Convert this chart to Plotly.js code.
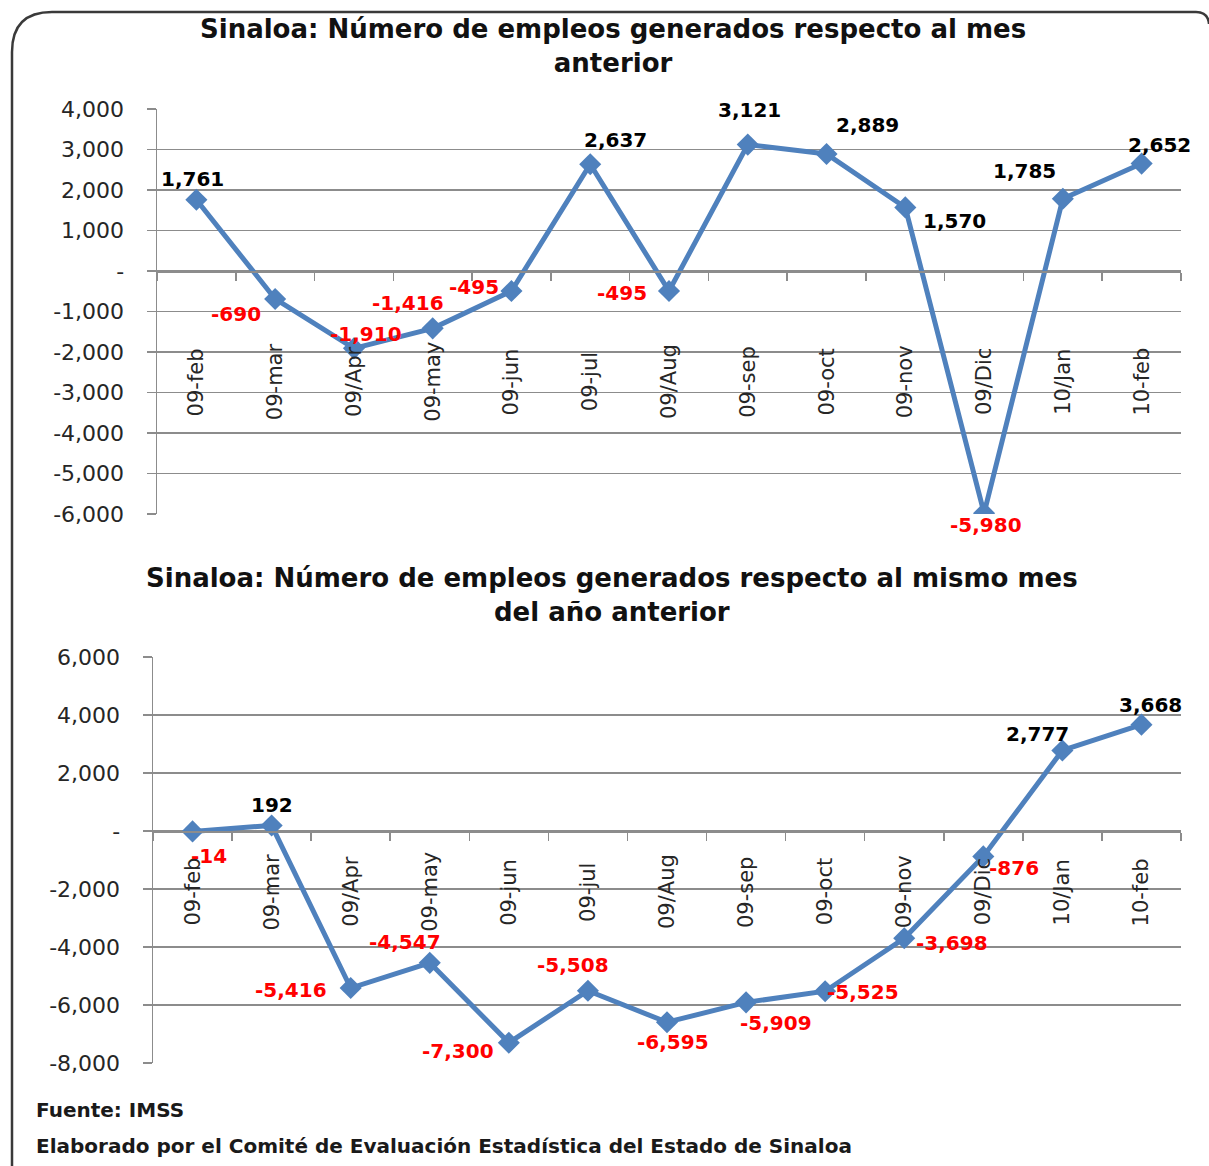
<!DOCTYPE html>
<html>
<head>
<meta charset="utf-8">
<script src="https://cdn.plot.ly/plotly-3.0.1.min.js"></script>
<style>html,body{margin:0;padding:0;background:#fff;}#chart{width:1209px;height:1166px;}</style>
</head>
<body>
<div id="chart"></div>
<script>
// ---- data ----
const categories = ['09-feb','09-mar','09/Apr','09-may','09-jun','09-jul','09/Aug','09-sep','09-oct','09-nov','09/Dic','10/Jan','10-feb'];
const mensual = [1761,-690,-1910,-1416,-495,2637,-495,3121,2889,1570,-5980,1785,2652];
const anual = [-14,192,-5416,-4547,-7300,-5508,-6595,-5909,-5525,-3698,-876,2777,3668];
const yTicksTop = [-6000,-5000,-4000,-3000,-2000,-1000,0,1000,2000,3000,4000];
const yTicksBottom = [-8000,-6000,-4000,-2000,0,2000,4000,6000];
const titleTop = 'Sinaloa: Número de empleos generados respecto al mes<br>anterior';
const titleBottom = 'Sinaloa: Número de empleos generados respecto al mismo mes<br>del año anterior';
const footer1 = 'Fuente: IMSS';
const footer2 = 'Elaborado por el Comité de Evaluación Estadística del Estado de Sinaloa';

// ---- label offsets (px) ----
const offTop = [[-4,21],[-39,-15],[12,14],[-25,25],[-37,4],[25,24],[-47,-2],[2,35],[41,29],[49,-14],[2,-12],[-38,28],[18,19]];
const offBottom = [[16,-25],[0,20],[-60,-2],[-25,21],[-51,-8],[-15,26],[6,-20],[30,-21],[38,-1],[48,-5],[31,-12],[-25,16],[9,20]];

const W = 1209, H = 1166;
const px = v => v / W;
const py = v => 1 - v / H;
const fmt = v => v === 0 ? '-' : v.toLocaleString('en-US');

const blue = '#4F81BD';
const grid = '#8c8c8c';
const font = 'DejaVu Sans, Verdana, sans-serif';

const topDom = {x:[px(157), px(1181)], y:[py(514), py(109)]};
const botDom = {x:[px(153), px(1181)], y:[py(1063), py(657)]};
const topRange = [-6000, 4000];
const botRange = [-8000, 6000];
const zeroPos = (dom, r) => dom.y[0] + (0 - r[0]) / (r[1] - r[0]) * (dom.y[1] - dom.y[0]);

const traces = [
  {x: categories, y: mensual, xaxis:'x', yaxis:'y', type:'scatter', mode:'lines+markers',
   line:{color:blue, width:5}, marker:{symbol:'diamond', size:17, color:blue}, hoverinfo:'skip'},
  {x: categories, y: anual, xaxis:'x2', yaxis:'y2', type:'scatter', mode:'lines+markers',
   line:{color:blue, width:5}, marker:{symbol:'diamond', size:17, color:blue}, hoverinfo:'skip'}
];

function xAxis(dom, range){
  return {domain: dom.x, anchor:'free', position: zeroPos(dom, range), type:'category',
    categoryarray: categories, categoryorder:'array', range:[-0.5, categories.length - 0.5],
    showline:true, linecolor:grid, linewidth:1.5, ticks:'outside', tickson:'boundaries',
    ticklen:8, tickcolor:grid, tickwidth:1.5, showticklabels:false, showgrid:false, zeroline:false, fixedrange:true};
}
function yAxis(dom, range, ticks, xname){
  return {domain: dom.y, anchor:xname, range: range, tickmode:'array', tickvals: ticks, ticktext: ticks.map(fmt),
    showline:true, linecolor:grid, linewidth:1.5, ticks:'outside', ticklen:9, tickcolor:grid, tickwidth:1.5,
    showgrid:true, gridcolor:grid, gridwidth:1.5, zeroline:false, ticklabelstandoff:18,
    tickfont:{family:font, size:22, color:'#262626'}, fixedrange:true};
}

const annotations = [];
function addLabels(vals, offs, xr, yr){
  vals.forEach((v, i) => {
    annotations.push({x: categories[i], y: v, xref: xr, yref: yr, text: fmt(v), showarrow:false,
      xanchor:'center', yanchor:'middle', xshift: offs[i][0], yshift: offs[i][1],
      font:{family:font, size:20, color: v < 0 ? '#FF0000' : '#000000', weight:'bold'}});
  });
}
function addCats(xr, yr, shift){
  categories.forEach(c => {
    annotations.push({x: c, y: 0, xref: xr, yref: yr, text: c, showarrow:false, textangle:-90,
      xanchor:'center', yanchor:'middle', yshift: shift,
      font:{family:font, size:21, color:'#262626'}});
  });
}
addCats('x','y',-111);
addCats('x2','y2',-61);
addLabels(mensual, offTop, 'x', 'y');
addLabels(anual, offBottom, 'x2', 'y2');

annotations.push({xref:'paper', yref:'paper', x:px(613), y:py(46), text:titleTop, showarrow:false,
  xanchor:'center', yanchor:'middle', font:{family:font, size:26, color:'#111', weight:'bold'}});
annotations.push({xref:'paper', yref:'paper', x:px(612), y:py(595), text:titleBottom, showarrow:false,
  xanchor:'center', yanchor:'middle', font:{family:font, size:26, color:'#111', weight:'bold'}});
annotations.push({xref:'paper', yref:'paper', x:px(34), y:py(1110), text:footer1, showarrow:false,
  xanchor:'left', yanchor:'middle', font:{family:font, size:20, color:'#1a1a1a', weight:'bold'}});
annotations.push({xref:'paper', yref:'paper', x:px(34), y:py(1146), text:footer2, showarrow:false,
  xanchor:'left', yanchor:'middle', font:{family:font, size:20, color:'#1a1a1a', weight:'bold'}});

// frame (rounded border)
const fx0 = px(12), fx1 = px(1196), fy0 = py(1190), fy1 = py(12);
const rx = px(40), ry = 40 / H;
const framePath = `M ${fx0} ${fy0} L ${fx0} ${fy1 - ry} Q ${fx0} ${fy1} ${fx0 + rx} ${fy1} L ${fx1} ${fy1}`;

const layout = {
  width: W, height: H, margin:{l:0, r:0, t:0, b:0},
  paper_bgcolor:'#ffffff', plot_bgcolor:'rgba(0,0,0,0)', showlegend:false,
  xaxis: xAxis(topDom, topRange),
  yaxis: yAxis(topDom, topRange, yTicksTop, 'x'),
  xaxis2: xAxis(botDom, botRange),
  yaxis2: yAxis(botDom, botRange, yTicksBottom, 'x2'),
  annotations: annotations,
  shapes: [
    {type:'path', xref:'paper', yref:'paper', path: framePath, line:{color:'#3a3a3a', width:2.5}},
    {type:'path', xref:'paper', yref:'paper', path: `M ${px(1196)} ${py(12)} Q ${px(1208)} ${py(12)} ${px(1209)} ${py(24)}`, line:{color:'#3a3a3a', width:2.5}}
  ]
};

Plotly.newPlot('chart', traces, layout, {staticPlot:true, displayModeBar:false});
</script>
</body>
</html>
